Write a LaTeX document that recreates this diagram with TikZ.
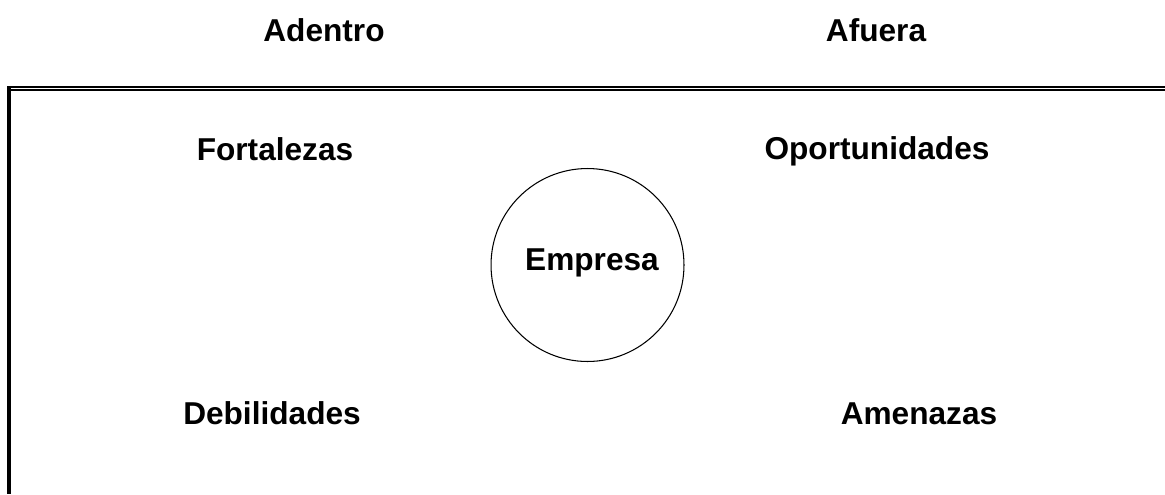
\documentclass[tikz,border=0pt]{standalone}
\usepackage{fontspec}
\setmainfont{Liberation Sans}

\begin{document}
\begin{tikzpicture}[x=0.02cm,y=-0.02cm]
    \tikzstyle{side} = [font=\fontsize{18}{21}\selectfont\bfseries, anchor=base, inner sep=0pt]
    \tikzstyle{factor} = [font=\fontsize{18}{21}\selectfont\bfseries, anchor=base, inner sep=0pt]
    \tikzstyle{firm} = [circle, draw, line width=0.6pt, minimum size=3.86cm, inner sep=0pt]
    \useasboundingbox (0,0) rectangle (1165,494);

    % Sides
    \node[side] (adentro) at (324,41.7) {Adentro};
    \node[side] (afuera) at (876,41.7) {Afuera};

    % Frame
    \coordinate (topleft) at (9,86);
    \coordinate (botleft) at (9,494);
    \draw[line width=2.27pt] (topleft) -- (botleft);
    \draw[line width=1.13pt] (7,87) -- (1165,87);
    \draw[line width=1.13pt] (11,90) -- (1165,90);

    % Factors
    \node[factor] (fort) at (275,160) {Fortalezas};
    \node[factor] (opor) at (877,159.5) {Oportunidades};
    \node[factor] (debil) at (272,424) {Debilidades};
    \node[factor] (amen) at (919,424) {Amenazas};

    % Company
    \node[firm] (circ) at (587.5,265) {};
    \node[factor] (empresa) at (592,270) {Empresa};
\end{tikzpicture}
\end{document}
